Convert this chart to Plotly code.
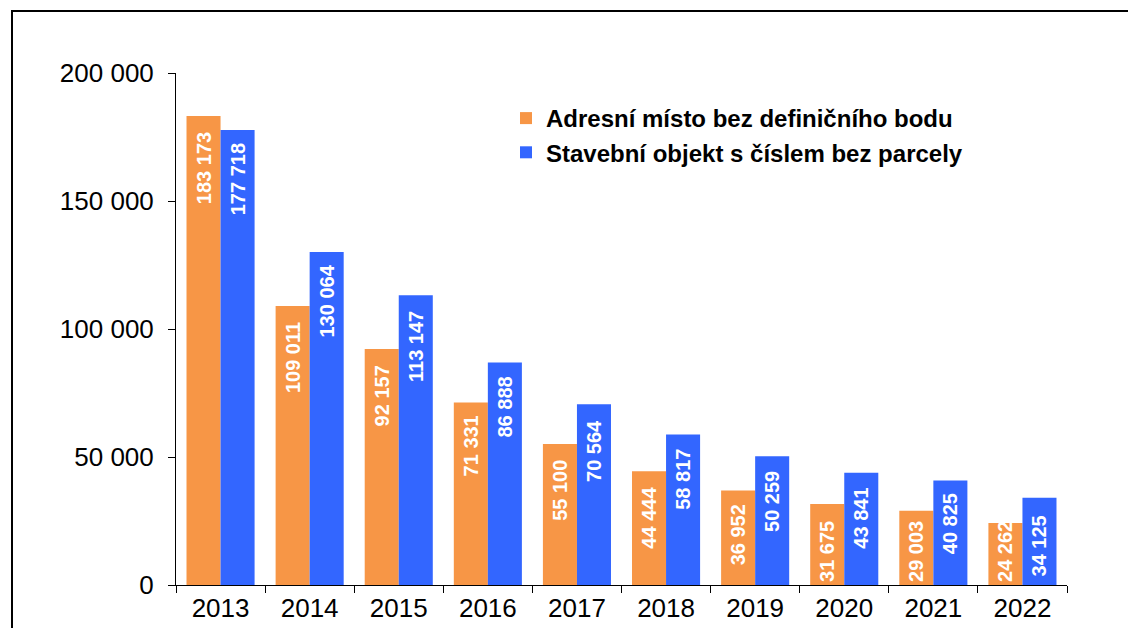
import plotly.graph_objects as go

years = ["2013", "2014", "2015", "2016", "2017", "2018", "2019", "2020", "2021", "2022"]
adresni = [183173, 109011, 92157, 71331, 55100, 44444, 36952, 31675, 29003, 24262]
stavebni = [177718, 130064, 113147, 86888, 70564, 58817, 50259, 43841, 40825, 34125]
name_a = "Adresní místo bez definičního bodu"
name_s = "Stavební objekt s číslem bez parcely"

FONT = "Liberation Sans, Arial, sans-serif"
ORANGE = "#F79646"
BLUE = "#3366FF"
LABEL_SIZE = 20

W, H = 1136, 628
L, R, T, B = 168, 77, 65, 51
pw, ph = W - L - R, H - T - B
YMAX = 200000


def fmt(v):
    return f"{v:,}".replace(",", " ")


def padded_labels(vals):
    # pad labels with leading no-break spaces so they sit near the bar top
    out = []
    for v in vals:
        s = fmt(v)
        txt_len = (sum(c.isdigit() for c in s) * 0.556 + s.count(" ") * 0.278) * LABEL_SIZE
        bar_h = v / YMAX * ph
        k = max(0, round((bar_h - 15 - txt_len - 3) / (0.278 * LABEL_SIZE)))
        out.append("\u00a0" * k + s)
    return out


fig = go.Figure()
for name, vals, col in [(name_a, adresni, ORANGE), (name_s, stavebni, BLUE)]:
    fig.add_trace(go.Bar(
        x=years, y=vals, name=name, marker=dict(color=col, line=dict(width=0)),
        text=padded_labels(vals), textposition="inside", insidetextanchor="start",
        textangle=-90, constraintext="none", hoverinfo="x+y+name",
        textfont=dict(family=FONT, size=LABEL_SIZE, color="white", weight="bold"),
        cliponaxis=False,
    ))

fig.update_layout(
    width=W, height=H, autosize=False,
    margin=dict(l=L, r=R, t=T, b=B),
    paper_bgcolor="white", plot_bgcolor="white",
    separators=", ",
    barmode="group", bargap=0.236, bargroupgap=0,
    font=dict(family=FONT, size=26, color="black"),
    showlegend=True,
    legend=dict(x=(498 - L) / pw, y=1 - (88 - T) / ph, xanchor="left", yanchor="top",
                bgcolor="rgba(0,0,0,0)", font=dict(family=FONT, size=24, weight="bold"),
                itemwidth=30, tracegroupgap=0),
    xaxis=dict(showline=True, linecolor="black", linewidth=1, ticks="outside",
               tickson="boundaries", ticklen=7, tickcolor="black",
               tickfont=dict(size=26), showgrid=False),
    yaxis=dict(range=[0, YMAX], dtick=50000, tickformat=",d", showline=True,
               linecolor="black", linewidth=1, ticks="outside", ticklen=7,
               tickcolor="black", tickfont=dict(size=26), showgrid=False,
               zeroline=False, ticklabelstandoff=9),
    shapes=[dict(type="rect", xref="paper", yref="paper",
                 x0=(4 - L) / pw, x1=1.3, y0=-0.3, y1=1 + (T - 3) / ph,
                 line=dict(color="black", width=2), fillcolor="rgba(0,0,0,0)", layer="above")],
)

fig.write_html("out.html")
